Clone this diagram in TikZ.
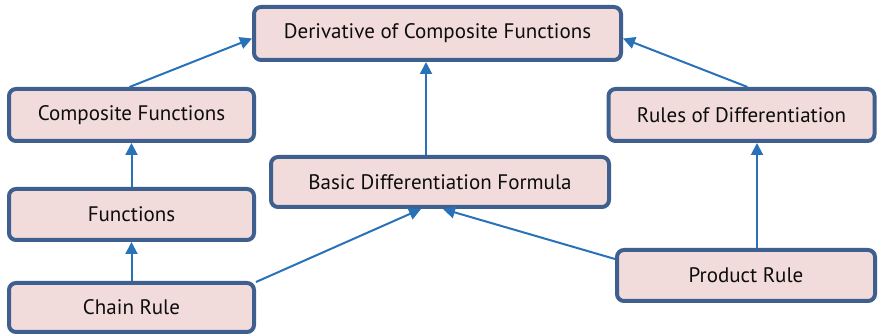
\documentclass[tikz,border=0pt]{standalone}
\usepackage{fontspec}
\setmainfont{PT Sans}
\usetikzlibrary{arrows.meta}
\definecolor{boxfill}{HTML}{F2DCDB}
\definecolor{boxdraw}{HTML}{3F5F8F}
\definecolor{arr}{HTML}{2A72B8}
\begin{document}
\begin{tikzpicture}[x=1pt,y=-1pt,
  box/.style={draw=boxdraw, fill=boxfill, line width=4pt, rounded corners=7pt,
    inner sep=0pt, font=\fontsize{21}{24}\selectfont, text=black!95},
  link/.style={draw=arr, line width=2pt, -{Triangle[length=12pt,width=12pt]}}]
\useasboundingbox (0,0) rectangle (878,336);
\node[box, minimum width=367pt, minimum height=53pt] (deriv) at (437.5,33.5) {Derivative of Composite Functions};
\node[box, minimum width=245pt, minimum height=52pt] (comp) at (131.5,115) {Composite Functions};
\node[box, minimum width=266pt, minimum height=52pt] (rules) at (741.5,115) {Rules of Differentiation};
\node[box, minimum width=338pt, minimum height=50pt] (basic) at (440,182) {Basic Differentiation Formula};
\node[box, minimum width=245pt, minimum height=51pt] (func) at (131.5,214.5) {Functions};
\node[box, minimum width=245pt, minimum height=49pt] (chain) at (131.5,307.5) {Chain Rule};
\node[box, minimum width=258pt, minimum height=51pt] (prod) at (746,275.5) {Product Rule};
\draw[link] ([xshift=-2pt]comp.north) -- ([yshift=-5pt]deriv.west);
\draw[link] ([xshift=6pt]rules.north) -- ([yshift=-5pt]deriv.east);
\draw[link] ([xshift=-14pt]basic.north) -- ([xshift=-11.5pt]deriv.south);
\draw[link] (func.north) -- (comp.south);
\draw[link] (chain.north) -- (func.south);
\draw[link] ([yshift=-1pt]chain.north east) -- ([xshift=-19pt]basic.south);
\draw[link] ([yshift=-11pt]prod.north west) -- ([xshift=3pt]basic.south);
\draw[link] ([xshift=11pt]prod.north) -- ([xshift=15.5pt]rules.south);
\end{tikzpicture}
\end{document}
